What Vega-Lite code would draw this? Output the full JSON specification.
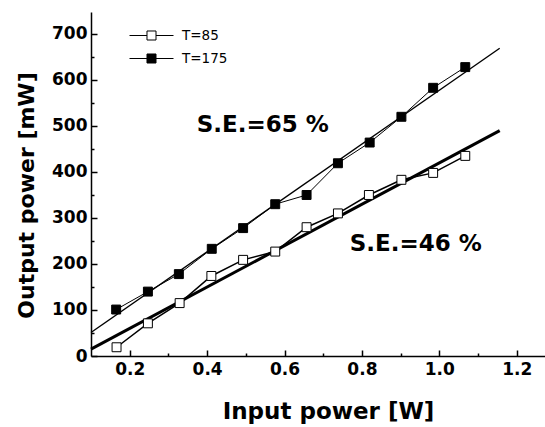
{
  "$schema": "https://vega.github.io/schema/vega-lite/v6.json",
  "width": 454,
  "height": 344,
  "autosize": "none",
  "padding": {"left": 91, "top": 12, "right": 0, "bottom": 71},
  "background": "white",
  "config": {
    "view": {"stroke": null},
    "font": "DejaVu Sans",
    "axis": {
      "domainColor": "black",
      "domainWidth": 1.5,
      "tickColor": "black",
      "tickWidth": 1.5,
      "grid": false,
      "labelFont": "DejaVu Sans",
      "labelFontWeight": "bold",
      "labelFontSize": 17,
      "labelColor": "black",
      "titleFont": "DejaVu Sans",
      "titleFontWeight": "bold",
      "titleColor": "black",
      "titleLimit": 500
    }
  },
  "datasets": {
    "pts": [
      {"series": "T=175", "x": 0.165, "y": 101},
      {"series": "T=175", "x": 0.247, "y": 140},
      {"series": "T=175", "x": 0.327, "y": 178},
      {"series": "T=175", "x": 0.412, "y": 233},
      {"series": "T=175", "x": 0.493, "y": 278},
      {"series": "T=175", "x": 0.576, "y": 330},
      {"series": "T=175", "x": 0.657, "y": 350},
      {"series": "T=175", "x": 0.738, "y": 419},
      {"series": "T=175", "x": 0.820, "y": 464},
      {"series": "T=175", "x": 0.902, "y": 520},
      {"series": "T=175", "x": 0.984, "y": 583},
      {"series": "T=175", "x": 1.067, "y": 628},
      {"series": "T=85", "x": 0.166, "y": 19},
      {"series": "T=85", "x": 0.247, "y": 71},
      {"series": "T=85", "x": 0.329, "y": 115},
      {"series": "T=85", "x": 0.411, "y": 174},
      {"series": "T=85", "x": 0.493, "y": 209},
      {"series": "T=85", "x": 0.576, "y": 227},
      {"series": "T=85", "x": 0.657, "y": 280},
      {"series": "T=85", "x": 0.738, "y": 310},
      {"series": "T=85", "x": 0.818, "y": 350},
      {"series": "T=85", "x": 0.902, "y": 383},
      {"series": "T=85", "x": 0.984, "y": 398},
      {"series": "T=85", "x": 1.067, "y": 435}
    ],
    "fit": [
      {"series": "T=175", "x": 0.1, "y": 51},
      {"series": "T=175", "x": 1.156, "y": 669},
      {"series": "T=85", "x": 0.1, "y": 15},
      {"series": "T=85", "x": 1.156, "y": 490}
    ],
    "notes": [
      {"x": 0.544, "y": 503, "label": "S.E.=65 %"},
      {"x": 0.939, "y": 243, "label": "S.E.=46 %"}
    ]
  },
  "encoding": {
    "x": {
      "field": "x", "type": "quantitative",
      "scale": {"domain": [0.1, 1.273], "nice": false, "zero": false},
      "axis": {
        "title": "Input power [W]",
        "titleFontSize": 23,
        "titlePadding": 20,
        "titleX": 237,
        "values": [0.2, 0.3, 0.4, 0.5, 0.6, 0.7, 0.8, 0.9, 1.0, 1.1, 1.2],
        "labelExpr": "round(datum.value*10) % 2 === 0 ? format(datum.value, '.1f') : ''",
        "tickSize": {"condition": {"test": "round(datum.value*10) % 2 === 0", "value": -6}, "value": -3},
        "labelPadding": 11,
        "labelFlush": false,
        "labelOverlap": false
      }
    },
    "y": {
      "field": "y", "type": "quantitative",
      "scale": {"domain": [0, 747.8], "nice": false, "zero": false},
      "axis": {
        "title": "Output power [mW]",
        "titleFontSize": 22,
        "titlePadding": 13,
        "titleY": 183,
        "values": [0, 50, 100, 150, 200, 250, 300, 350, 400, 450, 500, 550, 600, 650, 700],
        "labelExpr": "datum.value % 100 === 0 ? format(datum.value, 'd') : ''",
        "tickSize": {"condition": {"test": "datum.value % 100 === 0", "value": -6}, "value": -3},
        "labelPadding": 10,
        "labelFlush": false,
        "labelOverlap": false
      }
    }
  },
  "layer": [
    {
      "data": {"name": "fit"},
      "transform": [{"filter": "datum.series === 'T=175'"}],
      "mark": {"type": "line", "color": "black", "strokeWidth": 1.4}
    },
    {
      "data": {"name": "fit"},
      "transform": [{"filter": "datum.series === 'T=85'"}],
      "mark": {"type": "line", "color": "black", "strokeWidth": 3}
    },
    {
      "data": {"name": "pts"},
      "transform": [{"filter": "datum.series === 'T=175'"}],
      "mark": {"type": "line", "color": "black", "strokeWidth": 1}
    },
    {
      "data": {"name": "pts"},
      "transform": [{"filter": "datum.series === 'T=85'"}],
      "mark": {"type": "line", "color": "black", "strokeWidth": 1.5}
    },
    {
      "data": {"name": "pts"},
      "mark": {"type": "point", "shape": "square", "size": 80, "filled": true, "stroke": "black", "strokeWidth": 1, "opacity": 1},
      "encoding": {
        "fill": {
          "field": "series", "type": "nominal",
          "scale": {"domain": ["T=85", "T=175"], "range": ["white", "black"]},
          "legend": {
            "title": null,
            "orient": "none",
            "legendX": 49,
            "legendY": 12,
            "padding": 0,
            "symbolType": "M-2,0H-0.41M0.41,0H2M-0.41,-0.41H0.41V0.41H-0.41Z",
            "symbolSize": 484,
            "symbolStrokeColor": "black",
            "symbolStrokeWidth": 1,
            "symbolOpacity": 1,
            "rowPadding": 4,
            "labelOffset": 19,
            "labelFont": "DejaVu Sans",
            "labelFontSize": 13.5,
            "labelColor": "black"
          }
        }
      }
    },
    {
      "data": {"name": "notes"},
      "mark": {"type": "text", "font": "DejaVu Sans", "fontWeight": "bold", "fontSize": 23, "color": "black", "align": "center", "baseline": "middle"},
      "encoding": {
        "text": {"field": "label", "type": "nominal"}
      }
    },
    {
      "data": {"values": [{}]},
      "mark": {"type": "rule", "color": "black", "strokeWidth": 1.2},
      "encoding": {
        "x": null,
        "y": {"datum": 747.8}
      }
    }
  ]
}
